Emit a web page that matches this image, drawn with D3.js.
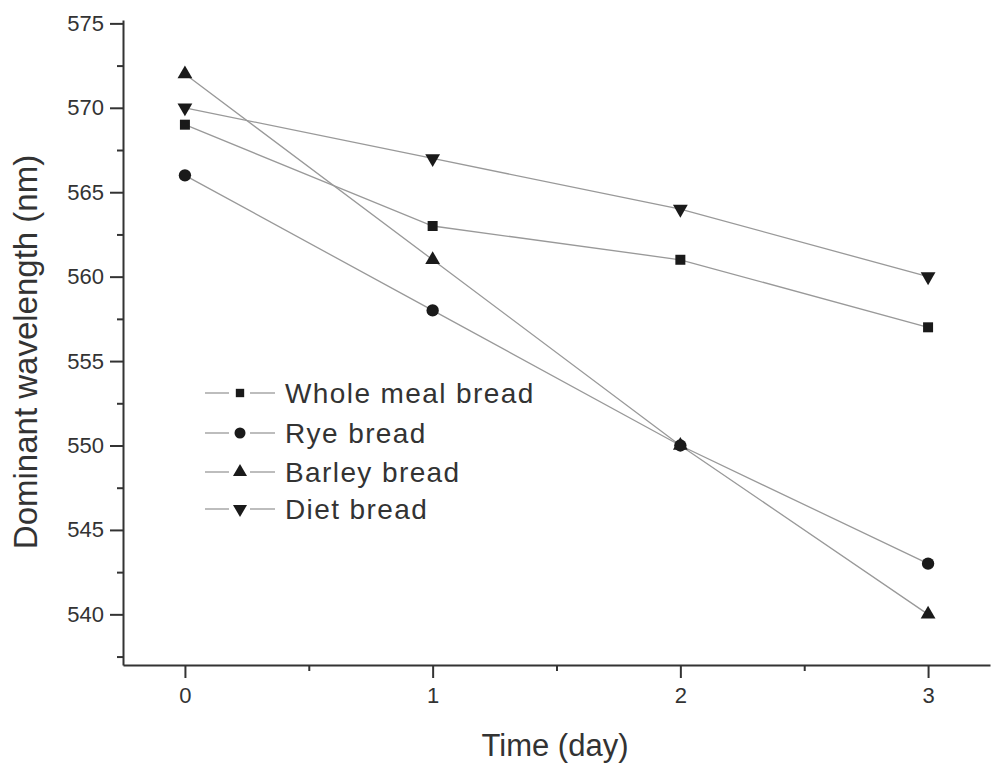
<!DOCTYPE html>
<html>
<head>
<meta charset="utf-8">
<script src="https://cdn.jsdelivr.net/npm/d3@7"></script>
<style>
  body { margin: 0; background: #fff; }
  svg { display: block; font-family: "Liberation Sans", Arial, sans-serif; }
</style>
</head>
<body>
<div id="chart"></div>
<script>
var days = [0, 1, 2, 3];
var seriesNames = ["Whole meal bread", "Rye bread", "Barley bread", "Diet bread"];
var wholeMeal = [569, 563, 561, 557];
var rye = [566, 558, 550, 543];
var barley = [572, 561, 550, 540];
var diet = [570, 567, 564, 560];
var yTicks = [540, 545, 550, 555, 560, 565, 570, 575];
var xTicks = [0, 1, 2, 3];

var width = 1000,
    height = 777,
    plotLeft = 123, plotRight = 990,
    plotTop = 20, plotBottom = 665;

var x = d3.scaleLinear().domain([-0.25, 3.25]).range([plotLeft, plotRight]);
var y = d3.scaleLinear().domain([537, 575.2]).range([plotBottom, plotTop]);

var svg = d3.select("#chart").append("svg")
    .attr("width", width)
    .attr("height", height);

var all = [wholeMeal, rye, barley, diet];
var symbols = [
  { type: d3.symbolSquare, size: 100, rot: 0, lsize: 70 },
  { type: d3.symbolCircle, size: 120, rot: 0, lsize: 95 },
  { type: d3.symbolTriangle, size: 95, rot: 0, lsize: 85 },
  { type: d3.symbolTriangle, size: 95, rot: 180, lsize: 85 }
];

// minor ticks
svg.append("g")
    .attr("transform", "translate(0," + plotBottom + ")")
    .call(d3.axisBottom(x).tickValues([0.5, 1.5, 2.5]).tickSize(6).tickFormat(""))
    .call(function(g) { g.select(".domain").remove(); })
    .selectAll("line").attr("stroke", "#333").attr("stroke-width", 2);

svg.append("g")
    .attr("transform", "translate(" + plotLeft + ",0)")
    .call(d3.axisLeft(y).tickValues([537.5, 542.5, 547.5, 552.5, 557.5, 562.5, 567.5, 572.5]).tickSize(6).tickFormat(""))
    .call(function(g) { g.select(".domain").remove(); })
    .selectAll("line").attr("stroke", "#333").attr("stroke-width", 2);

// main axes
var xAxis = svg.append("g")
    .attr("transform", "translate(0," + plotBottom + ")")
    .call(d3.axisBottom(x).tickValues(xTicks).tickFormat(d3.format("d"))
      .tickSize(13).tickPadding(9).tickSizeOuter(0));

var yAxis = svg.append("g")
    .attr("transform", "translate(" + plotLeft + ",0)")
    .call(d3.axisLeft(y).tickValues(yTicks).tickFormat(d3.format("d"))
      .tickSize(13).tickPadding(6).tickSizeOuter(0));

[xAxis, yAxis].forEach(function(g) {
  g.attr("font-size", 22);
  g.select(".domain").attr("stroke", "#333").attr("stroke-width", 2);
  g.selectAll(".tick line").attr("stroke", "#333").attr("stroke-width", 2);
  g.selectAll(".tick text").attr("fill", "#333");
});

// lines
var line = d3.line()
    .x(function(d, i) { return x(days[i]); })
    .y(function(d) { return y(d); });

svg.selectAll(".series")
    .data(all)
  .enter().append("path")
    .attr("class", "series")
    .attr("d", line)
    .attr("fill", "none")
    .attr("stroke", "#999")
    .attr("stroke-width", 1.3);

// markers
all.forEach(function(vals, s) {
  var sym = symbols[s];
  svg.selectAll(".m" + s)
      .data(vals)
    .enter().append("path")
      .attr("class", "m" + s)
      .attr("d", d3.symbol().type(sym.type).size(sym.size))
      .attr("transform", function(d, i) {
        return "translate(" + x(days[i]) + "," + y(d) + ") rotate(" + sym.rot + ")";
      })
      .attr("fill", "#1a1a1a");
});

// legend
var legendY = [393, 433, 472, 509];
var leg = svg.selectAll(".leg")
    .data(seriesNames)
  .enter().append("g")
    .attr("class", "leg")
    .attr("transform", function(d, i) { return "translate(0," + legendY[i] + ")"; });

leg.append("line").attr("x1", 205).attr("x2", 229).attr("stroke", "#999").attr("stroke-width", 1.3);
leg.append("line").attr("x1", 250).attr("x2", 275).attr("stroke", "#999").attr("stroke-width", 1.3);
leg.append("path")
    .attr("d", function(d, i) { return d3.symbol().type(symbols[i].type).size(symbols[i].lsize)(); })
    .attr("transform", function(d, i) { return "translate(240,0) rotate(" + symbols[i].rot + ")"; })
    .attr("fill", "#1a1a1a");
leg.append("text")
    .attr("x", 285)
    .attr("dy", "0.36em")
    .style("font-size", "28px")
    .style("letter-spacing", "1.4px")
    .attr("fill", "#333")
    .text(function(d) { return d; });

// axis titles
svg.append("text")
    .attr("x", 555)
    .attr("y", 756)
    .attr("text-anchor", "middle")
    .style("font-size", "31px")
    .attr("fill", "#333")
    .text("Time (day)");

svg.append("text")
    .attr("transform", "translate(37,352) rotate(-90)")
    .attr("text-anchor", "middle")
    .style("font-size", "33px")
    .attr("fill", "#333")
    .text("Dominant wavelength (nm)");
</script>
</body>
</html>
